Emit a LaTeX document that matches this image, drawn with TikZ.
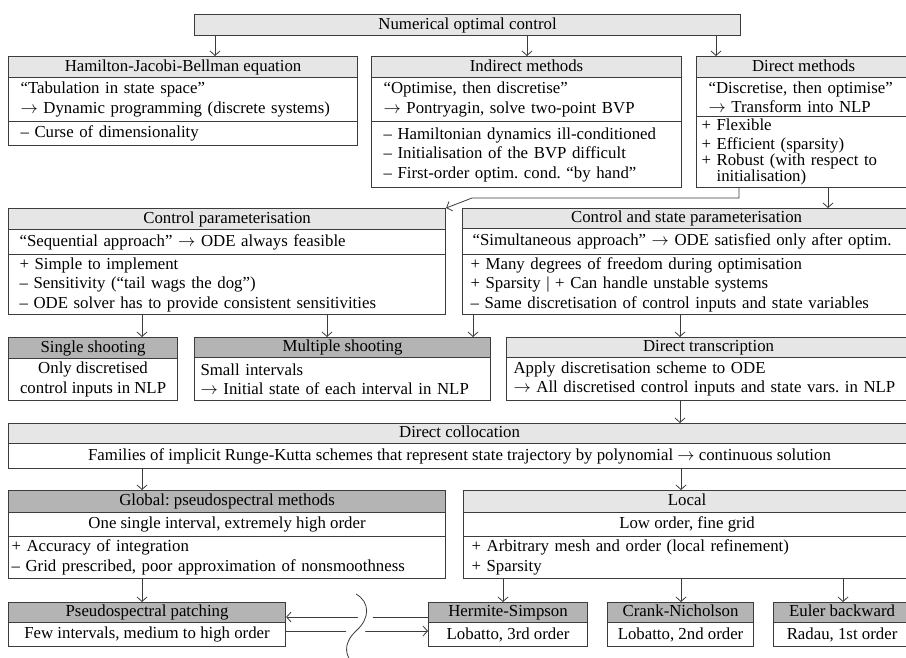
\documentclass[tikz,border=0pt]{standalone}
\usepackage{fontspec}
\setmainfont{Liberation Serif}
\usetikzlibrary{arrows.meta}
\definecolor{edgegray}{HTML}{3C3C3C}
\definecolor{hdlight}{HTML}{E6E6E6}
\definecolor{hddark}{HTML}{B4B4B4}
\frenchspacing

\begin{document}
\begin{tikzpicture}[x=1pt, y=-1pt, font=\fontsize{16.8pt}{19.5pt}\selectfont,
  >={Straight Barb[length=4.5pt,width=10pt]},
  hd/.style={draw=edgegray, line width=1.1pt, fill=hdlight, anchor=north west,
    inner sep=0pt, align=center, text height=11.5pt, text depth=3.5pt},
  hdd/.style={hd, fill=hddark},
  bd/.style={draw=edgegray, line width=1.1pt, anchor=north west, inner ysep=0pt, align=left},
  bdc/.style={bd, align=center, inner xsep=0pt},
  arr/.style={->, draw=edgegray, line width=0.8pt}]
  \useasboundingbox (0,0) rectangle (906,657);

  \node[hd, minimum width=546pt, minimum height=21pt] (noc) at (194,14) {Numerical optimal control};

  \node[hd, minimum width=349pt, minimum height=21pt] (hjbH) at (8,56) {Hamilton-Jacobi-Bellman equation};
  \node[bd, minimum width=349pt, minimum height=44pt, inner xsep=12pt, text width=325pt] (hjbB) at (8,77)
    {“Tabulation in state space”\\ $\rightarrow$ Dynamic programming (discrete systems)};
  \node[bd, minimum width=349pt, minimum height=24pt, inner xsep=12pt, text width=325pt] (hjbC) at (8,121)
    {– Curse of dimensionality};

  \node[hd, minimum width=310pt, minimum height=21pt] (indH) at (371,56) {Indirect methods};
  \node[bd, minimum width=310pt, minimum height=44pt, inner xsep=12pt, text width=286pt] (indB) at (371,77)
    {“Optimise, then discretise”\\ $\rightarrow$ Pontryagin, solve two-point BVP};
  \node[bd, minimum width=310pt, minimum height=66pt, inner xsep=12pt, text width=286pt] (indC) at (371,121)
    {– Hamiltonian dynamics ill-conditioned\\ – Initialisation of the BVP difficult\\ – First-order optim. cond. “by hand”};

  \node[hd, minimum width=214pt, minimum height=21pt] (dirH) at (696,56) {Direct methods};
  \node[bd, minimum width=214pt, minimum height=39pt, inner xsep=12pt, text width=190pt] (dirB) at (696,77)
    {“Discretise, then optimise”\\ $\rightarrow$ Transform into NLP};
  \node[bd, minimum width=214pt, minimum height=71pt, inner xsep=5pt, text width=204pt] (dirP) at (696,116)
    {+ Flexible\\[-1pt] + Efficient (sparsity)\\[-3pt] + Robust (with respect to\\[-4pt] \phantom{+ }initialisation)};

  \node[hd, minimum width=437pt, minimum height=21pt] (ctrlH) at (8,208) {Control parameterisation};
  \node[bd, minimum width=437pt, minimum height=25pt, inner xsep=11pt, text width=415pt] (ctrlB) at (8,229)
    {“Sequential approach” $\rightarrow$ ODE always feasible};
  \node[bd, minimum width=437pt, minimum height=60pt, inner xsep=11pt, text width=415pt] (ctrlC) at (8,254)
    {+ Simple to implement\\ – Sensitivity (“tail wags the dog”)\\ – ODE solver has to provide consistent sensitivities};

  \node[hd, minimum width=448pt, minimum height=20pt] (csH) at (462,208) {Control and state parameterisation};
  \node[bd, minimum width=448pt, minimum height=26pt, inner xsep=10pt, text width=428pt] (csB) at (462,228)
    {“Simultaneous approach” $\rightarrow$ ODE satisfied only after optim.};
  \node[bd, minimum width=448pt, minimum height=60pt, inner xsep=8pt, text width=432pt] (csC) at (462,254)
    {+ Many degrees of freedom during optimisation\\ + Sparsity \textbar{} + Can handle unstable systems\\ – Same discretisation of control inputs and state variables};

  \node[hdd, minimum width=169pt, minimum height=21pt] (sglH) at (8,337) {Single shooting};
  \node[bdc, minimum width=169pt, minimum height=42pt] (sglB) at (8,358) {Only discretised\\ control inputs in NLP};

  \node[hdd, minimum width=296pt, minimum height=20pt] (mulH) at (194,337) {Multiple shooting};
  \node[bd, minimum width=296pt, minimum height=43pt, inner xsep=6pt, text width=284pt] (mulB) at (194,357)
    {Small intervals\\ $\rightarrow$ Initial state of each interval in NLP};

  \node[hd, minimum width=404pt, minimum height=20pt] (traH) at (506,337) {Direct transcription};
  \node[bd, minimum width=404pt, minimum height=43pt, inner xsep=7pt, text width=390pt] (traB) at (506,357)
    {Apply discretisation scheme to ODE\\ $\rightarrow$ All discretised control inputs and state vars. in NLP};

  \node[hd, minimum width=902pt, minimum height=20pt] (colH) at (8,423) {Direct collocation};
  \node[bdc, minimum width=902pt, minimum height=25pt] (colB) at (8,443)
    {Families of implicit Runge-Kutta schemes that represent state trajectory by polynomial $\rightarrow$ continuous solution};

  \node[hdd, minimum width=437pt, minimum height=22pt] (gloH) at (8,490) {Global: pseudospectral methods};
  \node[bdc, minimum width=437pt, minimum height=24pt] (gloB) at (8,512) {One single interval, extremely high order};
  \node[bd, minimum width=437pt, minimum height=42pt, inner xsep=3pt, text width=431pt] (gloC) at (8,536)
    {+ Accuracy of integration\\ – Grid prescribed, poor approximation of nonsmoothness};

  \node[hd, minimum width=447pt, minimum height=22pt] (locH) at (463,490) {Local};
  \node[bdc, minimum width=447pt, minimum height=24pt] (locB) at (463,512) {Low order, fine grid};
  \node[bd, minimum width=447pt, minimum height=42pt, inner xsep=8pt, text width=431pt] (locC) at (463,536)
    {+ Arbitrary mesh and order (local refinement)\\ + Sparsity};

  \node[hdd, minimum width=277pt, minimum height=20pt] (patH) at (8,602) {Pseudospectral patching};
  \node[bdc, minimum width=277pt, minimum height=24pt] (patB) at (8,622) {Few intervals, medium to high order};

  \node[hdd, minimum width=159pt, minimum height=20pt] (herH) at (428,602) {Hermite-Simpson};
  \node[bdc, minimum width=159pt, minimum height=24pt] (herB) at (428,622) {Lobatto, 3rd order};

  \node[hdd, minimum width=146pt, minimum height=20pt] (craH) at (607,602) {Crank-Nicholson};
  \node[bdc, minimum width=146pt, minimum height=24pt] (craB) at (607,622) {Lobatto, 2nd order};

  \node[hdd, minimum width=137pt, minimum height=20pt] (eulH) at (773,602) {Euler backward};
  \node[bdc, minimum width=137pt, minimum height=24pt] (eulB) at (773,622) {Radau, 1st order};

  \draw[arr] (noc.south -| 215,0) -- (hjbH.north -| 215,0);
  \draw[arr] (noc.south -| 527,0) -- (indH.north -| 527,0);
  \draw[arr] (noc.south -| 716,0) -- (dirH.north -| 716,0);
  \draw[arr] (dirP.south -| 739,0) -- (739,198) -- (472,198) -- (ctrlH.north east);
  \draw[arr] (dirP.south -| 828,0) -- (csH.north -| 828,0);
  \draw[arr] (ctrlC.south -| 142,0) -- (sglH.north -| 142,0);
  \draw[arr] (ctrlC.south -| 327,0) -- (mulH.north -| 327,0);
  \draw[arr] (csC.south -| 473,0) -- (mulH.north -| 473,0);
  \draw[arr] (csC.south -| 680,0) -- (traH.north -| 680,0);
  \draw[arr] (traB.south -| 680,0) -- (colH.north -| 680,0);
  \draw[arr] (colB.south -| 142,0) -- (gloH.north -| 142,0);
  \draw[arr] (colB.south -| 681,0) -- (locH.north -| 681,0);
  \draw[arr] (gloC.south -| 142,0) -- (patH.north -| 142,0);
  \draw[arr] (locC.south -| 503,0) -- (herH.north -| 503,0);
  \draw[arr] (locC.south -| 681,0) -- (craH.north -| 681,0);
  \draw[arr] (locC.south -| 843,0) -- (eulH.north -| 843,0);
  \draw[arr] (herH.west |- 0,617) -- (patH.east |- 0,617);
  \draw[arr] (patB.east |- 0,631) -- (herB.west |- 0,631);

  \draw[white, line width=14pt] (356,594) .. controls (370,602) and (370,618) .. (357,630)
    .. controls (344,642) and (345,652) .. (350,660);
  \draw[edgegray, line width=0.8pt] (356,594) .. controls (370,602) and (370,618) .. (357,630)
    .. controls (344,642) and (345,652) .. (350,660);
\end{tikzpicture}
\end{document}
